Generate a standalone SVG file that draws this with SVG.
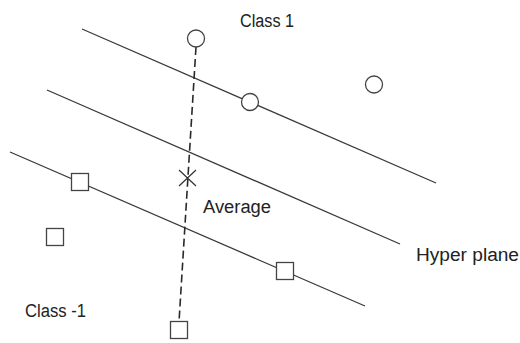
<svg xmlns="http://www.w3.org/2000/svg" width="520" height="343" viewBox="0 0 520 343">
<style>
.plane{stroke:#3a3a3a;stroke-width:1.3;fill:none}
.dash{stroke:#2a2a2a;stroke-width:1.6;stroke-dasharray:8 4;fill:none}
.pt{stroke:#444;stroke-width:1.3;fill:#fff}
.cross{stroke:#333;stroke-width:1.2}
text{font-family:"Liberation Sans",Arial,sans-serif;font-size:18px;fill:#222}
</style>
<rect width="520" height="343" fill="#fff"/>
<g id="connectors">
<line class="plane" x1="82" y1="29" x2="436" y2="183"/>
<line class="plane" x1="47" y1="90" x2="400" y2="244"/>
<line class="plane" x1="10" y1="152" x2="365" y2="306"/>
<line class="dash" x1="196" y1="47" x2="179" y2="322"/>
</g>
<g id="c1"><circle class="pt" cx="196" cy="38.5" r="8.5"/></g>
<g id="c2"><circle class="pt" cx="250" cy="102" r="8.5"/></g>
<g id="c3"><circle class="pt" cx="374" cy="84.5" r="8.5"/></g>
<g id="s1"><rect class="pt" x="71.5" y="173.5" width="17" height="17"/></g>
<g id="s2"><rect class="pt" x="46.5" y="228.5" width="17" height="17"/></g>
<g id="s3"><rect class="pt" x="276.5" y="262.5" width="17" height="17"/></g>
<g id="s4"><rect class="pt" x="170.5" y="321.5" width="17" height="17"/></g>
<g id="avg"><path class="cross" d="M179 170L196 186M196 170L179 186"/></g>
<g id="labels">
<text x="240" y="27" textLength="54" lengthAdjust="spacingAndGlyphs">Class 1</text>
<text x="203" y="213" textLength="68" lengthAdjust="spacingAndGlyphs">Average</text>
<text x="416" y="261" textLength="103" lengthAdjust="spacingAndGlyphs">Hyper plane</text>
<text x="25" y="317" textLength="61" lengthAdjust="spacingAndGlyphs">Class -1</text>
</g>
</svg>
